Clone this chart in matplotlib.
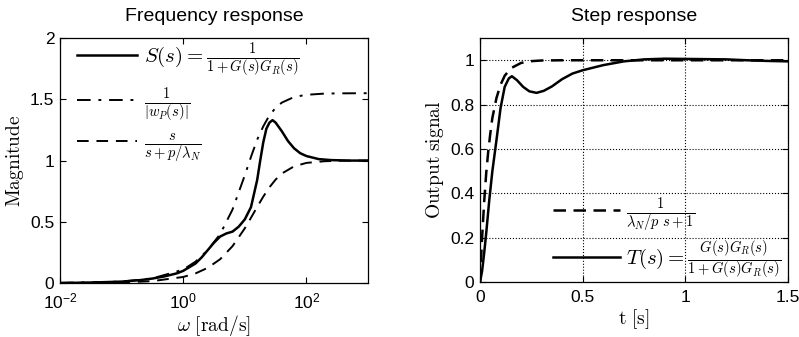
import numpy as np
import matplotlib
matplotlib.use("Agg")
import matplotlib.pyplot as plt
from matplotlib.ticker import FixedLocator, NullLocator

plt.rcParams['mathtext.fontset'] = 'cm'
plt.rcParams['font.family'] = ['Liberation Sans', 'DejaVu Sans']

# ---------- Frequency response data (log10 of omega) ----------
s_logw = [-2.0, -1.5, -1.0, -0.7, -0.5, -0.3, -0.1, 0.0, 0.1, 0.2, 0.3, 0.4, 0.5,
          0.6, 0.7, 0.8, 0.9, 1.0, 1.1, 1.2, 1.25, 1.3, 1.35, 1.4, 1.45, 1.5,
          1.6, 1.7, 1.8, 1.9, 2.0, 2.2, 2.4, 2.7, 3.0]
s_mag = [0.001, 0.004, 0.012, 0.024, 0.037, 0.055, 0.08, 0.10, 0.13, 0.16, 0.21, 0.27, 0.33,
         0.38, 0.405, 0.42, 0.46, 0.52, 0.62, 0.84, 1.0, 1.15, 1.26, 1.31, 1.33, 1.31,
         1.24, 1.16, 1.10, 1.06, 1.037, 1.012, 1.004, 1.0, 1.0]

wp_logw = [-2.0, -1.0, -0.5, 0.0, 0.2, 0.4, 0.6, 0.8, 1.0, 1.1, 1.2, 1.3, 1.4, 1.5,
           1.6, 1.8, 2.0, 2.3, 2.6, 3.0]
wp_mag = [0.0012, 0.012, 0.038, 0.11, 0.175, 0.27, 0.40, 0.60, 0.88, 1.03, 1.17, 1.28,
          1.37, 1.43, 1.473, 1.519, 1.537, 1.547, 1.549, 1.55]

hp_logw = [-2.0, -1.0, -0.5, 0.0, 0.2, 0.4, 0.6, 0.8, 1.0, 1.1, 1.2, 1.3, 1.4, 1.5,
           1.6, 1.8, 2.0, 2.3, 2.6, 3.0]
hp_mag = [0.0005, 0.005, 0.016, 0.05, 0.079, 0.125, 0.195, 0.301, 0.447, 0.533, 0.621,
          0.706, 0.782, 0.845, 0.894, 0.953, 0.981, 0.995, 0.999, 1.0]

# ---------- Step response data ----------
ref_t = [0.0, 0.01, 0.02, 0.03, 0.04, 0.05, 0.06, 0.08, 0.10, 0.12, 0.15, 0.2, 0.25,
         0.3, 0.4, 0.6, 0.8, 1.0, 1.2, 1.5]
ref_y = [0.0, 0.20, 0.36, 0.49, 0.59, 0.67, 0.74, 0.83, 0.89, 0.93, 0.964, 0.988, 0.996,
         0.999, 1.0, 1.0, 1.0, 1.0, 1.0, 1.0]

T_t = [0.0, 0.01, 0.02, 0.03, 0.045, 0.06, 0.08, 0.10, 0.12, 0.14, 0.155, 0.18, 0.21,
       0.24, 0.275, 0.31, 0.35, 0.4, 0.45, 0.5, 0.6, 0.7, 0.8, 0.9, 1.0, 1.1, 1.2,
       1.3, 1.4, 1.5]
T_y = [0.0, 0.05, 0.13, 0.22, 0.37, 0.50, 0.64, 0.785, 0.88, 0.918, 0.928, 0.91, 0.88,
       0.86, 0.853, 0.862, 0.882, 0.915, 0.94, 0.955, 0.978, 0.995, 1.004, 1.007, 1.006,
       1.005, 1.004, 1.0, 0.997, 0.995]

fig = plt.figure(figsize=(7.99, 3.37), dpi=100)
ax1 = fig.add_axes([0.0751, 0.160, 0.3855, 0.727])
ax2 = fig.add_axes([0.6008, 0.163, 0.3855, 0.724])

lw = 1.8
ax1.plot(10 ** np.array(s_logw), s_mag, 'k-', lw=lw,
         label=r'$S(s) = \frac{1}{1+G(s)G_R(s)}$')
ax1.plot(10 ** np.array(wp_logw), wp_mag, 'k-.', lw=1.4, dashes=(7, 4, 1.5, 4),
         label=r'$\frac{1}{|w_P(s)|}$')
ax1.plot(10 ** np.array(hp_logw), hp_mag, 'k--', lw=1.4, dashes=(6, 4),
         label=r'$\frac{s}{s+p/\lambda_N}$')
ax1.set_xscale('log')
ax1.set_xlim(1e-2, 1e3)
ax1.set_ylim(0, 2)
ax1.xaxis.set_major_locator(FixedLocator([1e-2, 1e0, 1e2]))
ax1.xaxis.set_minor_locator(NullLocator())
ax1.set_yticks([0, 0.5, 1, 1.5, 2])
ax1.set_yticklabels(['0', '0.5', '1', '1.5', '2'])
ax1.set_title('Frequency response', fontsize=14, pad=12)
ax1.set_ylabel(r'$\mathrm{Magnitude}$', fontsize=14, labelpad=3)
ax1.set_xlabel(r'$\omega\ \mathrm{[rad/s]}$', fontsize=14, labelpad=1)
ax1.legend(loc='center left', frameon=False, fontsize=15, handlelength=2.9,
           labelspacing=0.35, borderaxespad=0, borderpad=0, handletextpad=0.3,
           bbox_to_anchor=(0.055, 0.735))

ax2.plot(ref_t, ref_y, 'k--', lw=1.8, dashes=(5, 3),
         label=r'$\frac{1}{\lambda_N/p\ s+1}$')
ax2.plot(T_t, T_y, 'k-', lw=lw,
         label=r'$T(s) = \frac{G(s)G_R(s)}{1+G(s)G_R(s)}$')
ax2.set_xlim(0, 1.5)
ax2.set_ylim(0, 1.1)
ax2.set_xticks([0, 0.5, 1, 1.5])
ax2.set_xticklabels(['0', '0.5', '1', '1.5'])
ax2.set_yticks([0, 0.2, 0.4, 0.6, 0.8, 1])
ax2.set_yticklabels(['0', '0.2', '0.4', '0.6', '0.8', '1'])
ax2.grid(True, linestyle=':', color='k', lw=0.8)
ax2.set_title('Step response', fontsize=14, pad=12)
ax2.set_ylabel(r'$\mathrm{Output\ signal}$', fontsize=14, labelpad=3)
ax2.set_xlabel(r'$\mathrm{t\ [s]}$', fontsize=14, labelpad=1)
ax2.legend(loc='center left', frameon=False, fontsize=15, handlelength=3.2,
           labelspacing=0.2, borderaxespad=0, borderpad=0, handletextpad=0.3,
           bbox_to_anchor=(0.237, 0.178))

for ax in (ax1, ax2):
    ax.tick_params(direction='in', top=True, right=True, labelsize=12.5, length=4,
                   width=0.8, pad=4)
    ax.tick_params(axis='x', pad=6)
    for sp in ax.spines.values():
        sp.set_linewidth(0.9)

fig.savefig('out.png', dpi=100)
